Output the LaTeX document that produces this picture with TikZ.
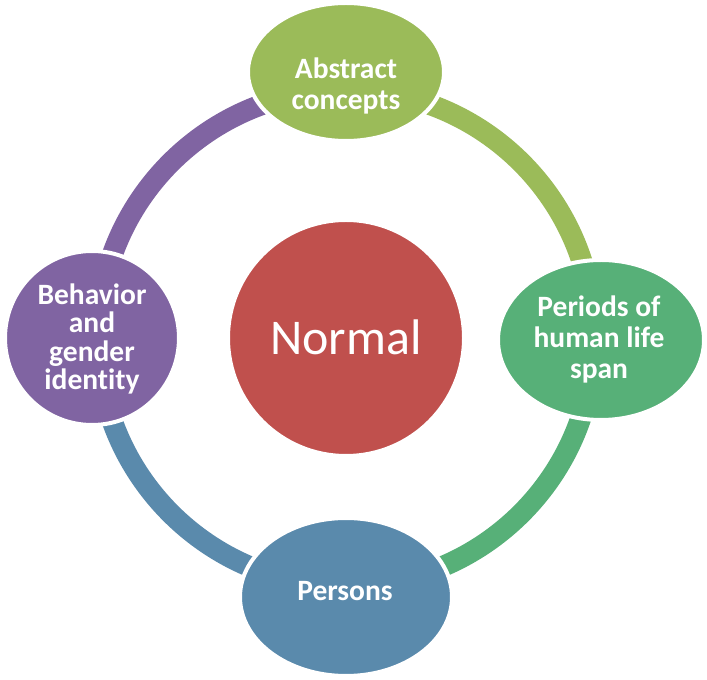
\documentclass[tikz,border=0pt]{standalone}
\usepackage{fontspec}
\setmainfont{Carlito}[Ligatures=NoCommon]
\usetikzlibrary{shapes.geometric}
\definecolor{cLime}{HTML}{9BBB59}
\definecolor{cGreen}{HTML}{57B078}
\definecolor{cPurple}{HTML}{8064A2}
\definecolor{cRed}{HTML}{C0504D}
\definecolor{cBlue}{HTML}{5A8AAC}
\begin{document}
\begin{tikzpicture}[x=1pt,y=1pt,
  bub/.style={ellipse, draw=white, line width=4pt, inner sep=0pt},
  lbl/.style={text=white, align=center, inner sep=0pt, font=\fontsize{29.5}{31}\selectfont\bfseries},
  ringarc/.style={line width=21pt}]
\useasboundingbox (0,0) rectangle (707,680);
\coordinate (ctr) at (346,342);
% ring arcs
\draw[ringarc, cPurple] ([shift={(180:248pt)}]ctr) arc[start angle=180, end angle=90, radius=248pt];
\draw[ringarc, cLime]   ([shift={(90:248pt)}]ctr) arc[start angle=90, end angle=0, radius=248pt];
\draw[ringarc, cGreen]  ([shift={(0:248pt)}]ctr) arc[start angle=0, end angle=-90, radius=248pt];
\draw[ringarc, cBlue]   ([shift={(-90:248pt)}]ctr) arc[start angle=-90, end angle=-180, radius=248pt];
% shapes
\node[bub, fill=cRed, minimum width=236pt, minimum height=236pt] (norm) at (ctr) {};
\node[bub, fill=cLime, minimum width=196pt, minimum height=138pt] (abs) at (346,608) {};
\node[bub, fill=cGreen, minimum width=206pt, minimum height=160pt] (per) at (601,340) {};
\node[bub, fill=cPurple, minimum width=174pt, minimum height=174pt] (beh) at (92,342) {};
\node[bub, fill=cBlue, minimum width=212pt, minimum height=158pt] (pers) at (346,83) {};
% labels
\node[text=white, inner sep=0pt, anchor=base, font=\fontsize{50}{60}\selectfont] (normT) at (346,325) {Normal};
\node[lbl] (absT) at (346,594) {Abstract\\concepts};
\node[lbl] (perT) at (599,341) {Periods of\\human life\\span};
\node[lbl, font=\fontsize{29.5}{28.5}\selectfont\bfseries] (behT) at (92,341) {Behavior\\and\\gender\\identity};
\node[lbl, anchor=base] (persT) at (345,79) {Persons};
\end{tikzpicture}
\end{document}
